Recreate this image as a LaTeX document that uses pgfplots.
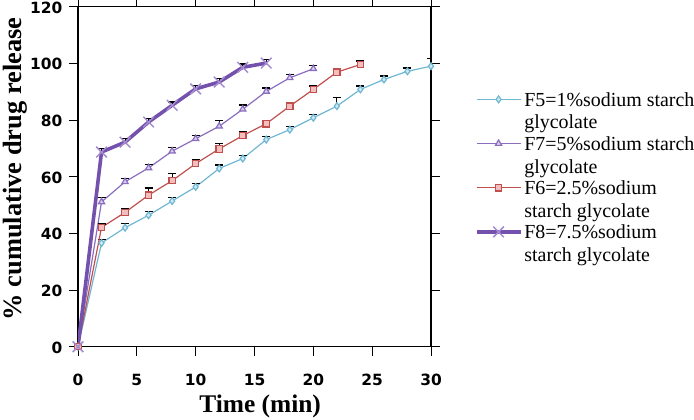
\documentclass[border=0pt]{standalone}
\usepackage{fontspec}
\setmainfont{Liberation Serif}
\newfontfamily\ticksans{DejaVu Sans}
\usepackage{pgfplots}
\usepackage{pgfplotstable}
\pgfplotsset{compat=1.18}

\definecolor{cblue}{HTML}{6FB7D2}
\definecolor{cbluef}{HTML}{CDEAF4}
\definecolor{cpurp}{HTML}{8A6DBE}
\definecolor{cpurpf}{HTML}{D9CCEE}
\definecolor{cred}{HTML}{C0504D}
\definecolor{credf}{HTML}{F4BEBE}
\definecolor{cdeep}{HTML}{7451AC}
\definecolor{cdeepm}{HTML}{A58BD0}

\pgfplotstableread{
x y e
0 0 0
2 36.6 1.2
4 42.0 1.5
6 46.4 1.2
8 51.4 1.2
10 56.4 1.2
12 62.9 1.2
14 66.4 1.2
16 73.1 1.2
18 76.6 1.2
20 80.8 1.2
22 84.9 3.0
24 90.8 1.2
26 94.3 1.2
28 97.2 1.2
30 99.0 2.6
}\fivetab

\pgfplotstableread{
x y e
0 0 0
2 51.1 1.5
4 58.2 1.2
6 63.1 1.2
8 69.0 1.2
10 73.4 1.2
12 77.8 2.0
14 83.8 1.5
16 90.1 1.2
18 94.9 1.2
20 98.1 1.2
}\seventab

\pgfplotstableread{
x y e
0 0 0
2 42.1 1.2
4 47.4 1.2
6 53.5 2.5
8 58.6 2.5
10 64.6 1.5
12 69.8 2.0
14 74.5 1.5
16 78.7 1.2
18 84.9 1.2
20 90.8 1.2
22 96.9 1.2
24 99.6 1.2
}\sixtab

\pgfplotstableread{
x y e
0 0 0
2 68.7 1.2
4 72.2 1.2
6 79.3 1.2
8 85.2 1.2
10 91.0 1.2
12 93.4 1.2
14 98.6 1.2
16 100.1 1.2
}\eighttab

\pgfplotsset{myerr/.style={
    error bars/y dir=plus, error bars/y explicit,
    error bars/error bar style={black, line width=1pt},
    error bars/error mark options={black, line width=1.3pt, mark size=4bp, rotate=90}}}

\begin{document}
\begin{tikzpicture}
\begin{axis}[
  name=ax,
  scale only axis,
  width=353bp, height=340bp,
  xmin=0, xmax=30, ymin=0, ymax=120,
  xtick={0,5,...,30}, ytick={0,20,...,120},
  tick align=outside,
  major tick length=9bp,
  tick style={black, line width=1pt},
  axis line style={black, line width=1.6pt},
  /pgf/number format/assume math mode=true,
  tick label style={font=\ticksans\bfseries\fontsize{15.5}{19}\selectfont},
  xticklabel style={yshift=-15bp},
  yticklabel style={xshift=-3bp, yshift=-1bp},
  xlabel={\bfseries\fontsize{25.5}{30}\selectfont Time (min)},
  ylabel={\bfseries\fontsize{26.5}{30}\selectfont \% cumulative drug release},
  xlabel style={at={(axis description cs:0.516,-0.177)}, anchor=center},
  ylabel style={at={(axis description cs:-0.178,0.523)}, anchor=center},
  legend style={draw=none, fill=none, at={(1.115,0.765)}, anchor=north west,
    font=\fontsize{20}{22.5}\selectfont, row sep=23bp,
    cells={anchor=west}},
  legend cell align=left,
  legend image code/.code={\draw[mark repeat=2,mark phase=2] plot coordinates {(0bp,0bp) (22bp,0bp) (44bp,0bp)};},
]
\addplot[cblue, line width=1.2pt, mark=diamond*, mark size=3.4bp,
  mark options={fill=cbluef, draw=cblue}, myerr]
  table[x=x, y=y, y error=e] {\fivetab};
\addlegendentry{\begin{tabular}[t]{@{}l@{}}F5=1\%sodium starch\\glycolate\end{tabular}}
\addplot[cpurp, line width=1.2pt, mark=triangle*, mark size=3.6bp,
  mark options={fill=cpurpf, draw=cpurp}, myerr]
  table[x=x, y=y, y error=e] {\seventab};
\addlegendentry{\begin{tabular}[t]{@{}l@{}}F7=5\%sodium starch\\glycolate\end{tabular}}
\addplot[cred, line width=1.2pt, mark=square*, mark size=3.2bp,
  mark options={fill=credf, draw=cred}, myerr]
  table[x=x, y=y, y error=e] {\sixtab};
\addlegendentry{\begin{tabular}[t]{@{}l@{}}F6=2.5\%sodium\\starch glycolate\end{tabular}}
\addplot[cdeep, line width=3.6pt, mark=x, mark size=7.5bp,
  mark options={draw=cdeepm, line width=1.5pt}, myerr]
  table[x=x, y=y, y error=e] {\eighttab};
\addlegendentry{\begin{tabular}[t]{@{}l@{}}F8=7.5\%sodium\\starch glycolate\end{tabular}}
\end{axis}
\pgfresetboundingbox
\path[use as bounding box] ([shift={(-78bp,-73.3bp)}]ax.south west) rectangle ++(694bp,420bp);
\end{tikzpicture}
\end{document}
